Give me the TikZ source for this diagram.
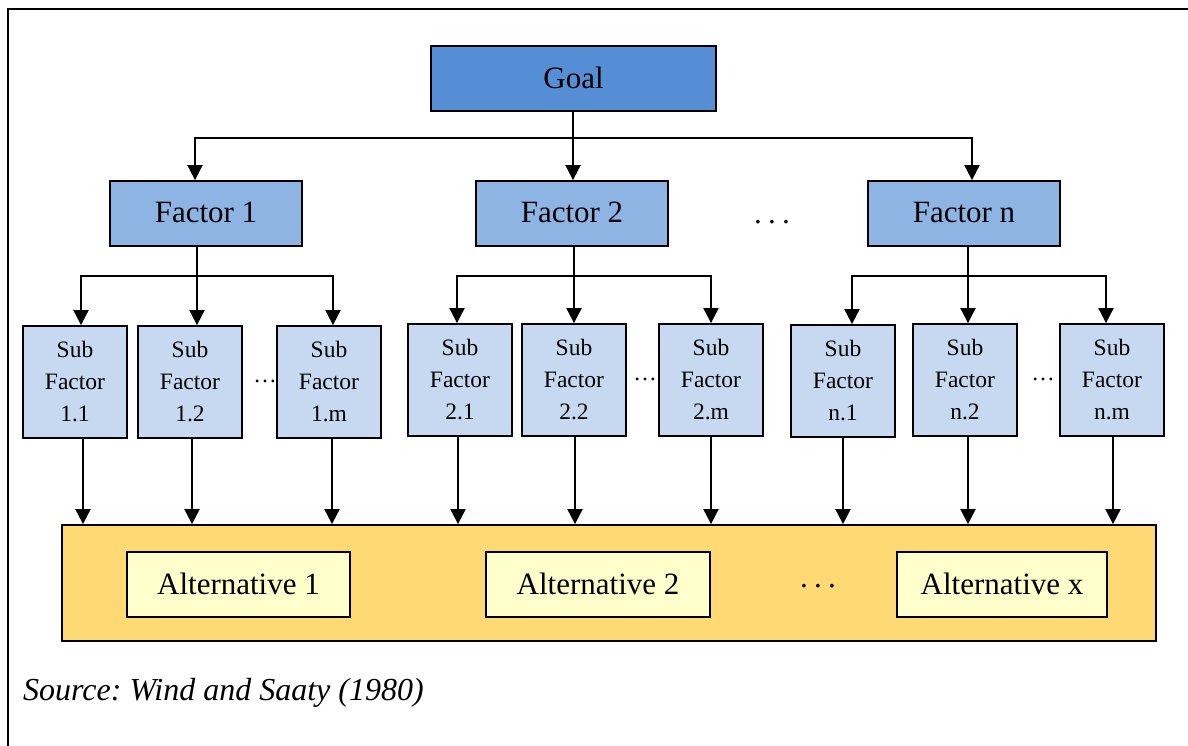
\documentclass[tikz,border=0pt]{standalone}
\usepackage{fontspec}
\setmainfont{Liberation Serif}
\usetikzlibrary{arrows.meta}
\definecolor{goalc}{HTML}{558ED5}
\definecolor{factc}{HTML}{8EB4E3}
\definecolor{subc}{HTML}{C6D9F1}
\definecolor{altbg}{HTML}{FFDA74}
\definecolor{altc}{HTML}{FFFFCC}
\frenchspacing
\tikzset{
  box/.style={draw=black, line width=1.8pt, inner sep=0pt},
  goalbox/.style={box, fill=goalc, minimum width=285pt, minimum height=65pt, font=\fontsize{31}{36}\selectfont},
  factbox/.style={box, fill=factc, minimum width=192pt, minimum height=65pt, font=\fontsize{31}{36}\selectfont},
  subbox/.style={box, fill=subc, minimum width=104pt, minimum height=112pt, align=center, font=\fontsize{23.5}{32}\selectfont},
  altouter/.style={box, fill=altbg, minimum width=1094pt, minimum height=116pt},
  altbox/.style={box, fill=altc, minimum height=65pt, font=\fontsize{31}{36}\selectfont},
  bigdots/.style={inner sep=0pt, font=\fontsize{31}{36}\selectfont},
  smalldots/.style={inner sep=0pt, font=\fontsize{23.5}{32}\selectfont},
  arr/.style={line width=2pt, -{Triangle[width=15pt,length=15pt]}},
  ln/.style={line width=2pt},
}
\begin{document}
\begin{tikzpicture}[x=1pt, y=-1pt]
\useasboundingbox (0,0) rectangle (1188,746);
% frame (top and left only visible)
\draw[line width=2.2pt] (8,746) -- (8,9) -- (1188,9);

% nodes
\node[goalbox] (goal) at (573.5,78.5) {\raisebox{2pt}{Goal}};
\node[factbox] (f1) at (206,213.5) {\raisebox{2pt}{Factor 1}};
\node[factbox] (f2) at (572,213.5) {\raisebox{2pt}{Factor 2}};
\node[factbox] (fn) at (964,213.5) {\raisebox{2pt}{Factor n}};
\node[bigdots] (d0) at (772,222) {.\kern6.2pt.\kern6.2pt.};

\node[subbox] (s11) at (75,382) {Sub\\Factor\\1.1};
\node[subbox] (s12) at (190,382) {Sub\\Factor\\1.2};
\node[subbox] (s1m) at (329,382) {Sub\\Factor\\1.m};
\node[subbox] (s21) at (460,380) {Sub\\Factor\\2.1};
\node[subbox] (s22) at (574,380) {Sub\\Factor\\2.2};
\node[subbox] (s2m) at (711,380) {Sub\\Factor\\2.m};
\node[subbox] (sn1) at (843,381) {Sub\\Factor\\n.1};
\node[subbox] (sn2) at (965,380) {Sub\\Factor\\n.2};
\node[subbox] (snm) at (1112,380) {Sub\\Factor\\n.m};
\node[smalldots] (d1) at (265,381) {…};
\node[smalldots] (d2) at (645,379) {…};
\node[smalldots] (d3) at (1043,379) {…};

\node[altouter] (alt) at (609,583) {};
\node[altbox, minimum width=223pt] (a1) at (238.5,584.5) {\raisebox{2pt}{Alternative 1}};
\node[altbox, minimum width=224pt] (a2) at (598,584.5) {\raisebox{2pt}{Alternative 2}};
\node[altbox, minimum width=210pt] (ax) at (1002,584.5) {\raisebox{2pt}{Alternative x}};
\node[bigdots] (d4) at (818,586) {.\kern6.2pt.\kern6.2pt.};

\node[anchor=base west, inner sep=0pt, font=\fontsize{32}{36}\selectfont\itshape] (src) at (23,700) {Source: Wind and Saaty (1980)};

% goal -> factors
\coordinate (gb) at (573,138);
\draw[ln] (goal.south -| gb) -- (gb);
\draw[arr] (gb) -- (gb |- f2.north);
\draw[arr] (gb) -| ([xshift=-11pt]f1.north);
\draw[arr] (gb) -| ([xshift=8pt]fn.north);

% factor 1 -> subs
\coordinate (b1) at (197,276);
\draw[ln] (f1.south -| b1) -- (b1);
\draw[arr] (b1) -| ([xshift=6pt]s11.north);
\draw[arr] (b1) -- (b1 |- s12.north);
\draw[arr] (b1) -| ([xshift=4pt]s1m.north);

% factor 2 -> subs
\coordinate (b2) at (574,276);
\draw[ln] (f2.south -| b2) -- (b2);
\draw[arr] (b2) -| ([xshift=-3pt]s21.north);
\draw[arr] (b2) -- (b2 |- s22.north);
\draw[arr] (b2) -| (s2m.north);

% factor n -> subs
\coordinate (bn) at (968,276);
\draw[ln] (fn.south -| bn) -- (bn);
\draw[arr] (bn) -| ([xshift=9pt]sn1.north);
\draw[arr] (bn) -- (bn |- sn2.north);
\draw[arr] (bn) -| ([xshift=-6pt]snm.north);

% subs -> alternatives
\draw[arr] ([xshift=8pt]s11.south) -- ([xshift=8pt]s11.south |- alt.north);
\draw[arr] ([xshift=2pt]s12.south) -- ([xshift=2pt]s12.south |- alt.north);
\draw[arr] ([xshift=3pt]s1m.south) -- ([xshift=3pt]s1m.south |- alt.north);
\draw[arr] ([xshift=-2pt]s21.south) -- ([xshift=-2pt]s21.south |- alt.north);
\draw[arr] ([xshift=1pt]s22.south) -- ([xshift=1pt]s22.south |- alt.north);
\draw[arr] (s2m.south) -- (s2m.south |- alt.north);
\draw[arr] (sn1.south) -- (sn1.south |- alt.north);
\draw[arr] ([xshift=3pt]sn2.south) -- ([xshift=3pt]sn2.south |- alt.north);
\draw[arr] ([xshift=1pt]snm.south) -- ([xshift=1pt]snm.south |- alt.north);
\end{tikzpicture}
\end{document}
